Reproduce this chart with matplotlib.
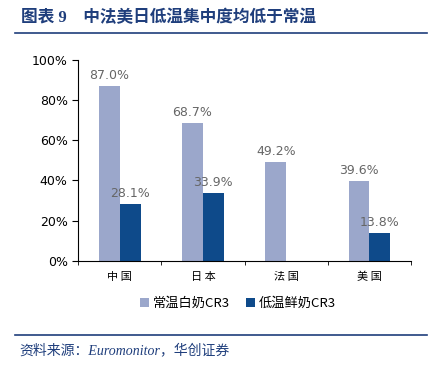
import numpy as np
import matplotlib
matplotlib.use("Agg")
import matplotlib.pyplot as plt
from matplotlib.lines import Line2D

plt.rcParams["font.family"] = ["Noto Sans CJK SC", "DejaVu Sans"]

categories = ["中国", "日本", "法国", "美国"]
ambient_cr3 = [87.0, 68.7, 49.2, 39.6]
chilled_cr3 = [28.1, 33.9, None, 13.8]
series_names = ["常温白奶CR3", "低温鲜奶CR3"]
light_color = "#9BA7CB"
dark_color = "#0E4A8A"
navy = "#1F3E7C"

fig = plt.figure(figsize=(4.34, 3.70), dpi=100)

# title and rules
fig.text(0.048, 0.951, "图表 9    中法美日低温集中度均低于常温", fontsize=12,
         fontweight="bold", color=navy, va="center", ha="left",
         family=["Liberation Serif", "Noto Sans CJK SC"])
fig.add_artist(Line2D([0.035, 0.985], [0.911, 0.911], color=navy, lw=1.2))
fig.add_artist(Line2D([0.035, 0.985], [0.095, 0.095], color=navy, lw=1.2))
fig.text(0.045, 0.052, "资料来源：Euromonitor，华创证券", fontsize=10,
         style="italic", color=navy, va="center", ha="left",
         family=["Liberation Serif", "Noto Sans CJK SC"])

ax = fig.add_axes([0.180, 0.295, 0.767, 0.543])
x = np.arange(len(categories))
w = 0.25
ax.bar(x - w / 2, ambient_cr3, width=w, color=light_color, label=series_names[0])
chilled_vals = [v if v is not None else 0 for v in chilled_cr3]
ax.bar(x + w / 2, chilled_vals, width=w, color=dark_color, label=series_names[1])

for xi, v in zip(x, ambient_cr3):
    ax.text(xi - w / 2, v + 2, f"{v:.1f}%", ha="center", va="bottom",
            fontsize=9, color="#666666", family="DejaVu Sans")
for xi, v in zip(x, chilled_cr3):
    if v is not None:
        ax.text(xi + w / 2, v + 2, f"{v:.1f}%", ha="center", va="bottom",
                fontsize=9, color="#666666", family="DejaVu Sans")

ax.set_xlim(-0.5, len(categories) - 0.5)
ax.set_ylim(0, 100)
ax.set_yticks(np.arange(0, 101, 20))
ax.set_yticklabels([f"{t}%" for t in range(0, 101, 20)], fontsize=9,
                   family="DejaVu Sans")
ax.set_xticks(x)
ax.set_xticklabels([" ".join(c) for c in categories], fontsize=8)
ax.tick_params(axis="x", length=0, pad=8)
ax.set_xticks(np.arange(-0.5, len(categories)), minor=True)
ax.tick_params(axis="x", which="minor", length=3, direction="out")
ax.tick_params(axis="y", length=4, direction="out")
for s in ["top", "right"]:
    ax.spines[s].set_visible(False)
ax.spines["left"].set_linewidth(0.8)
ax.spines["bottom"].set_linewidth(0.8)

ax.legend(loc="upper center", bbox_to_anchor=(0.48, -0.12), ncol=2,
          frameon=False, fontsize=9.5, handlelength=0.7, handleheight=0.7,
          handletextpad=0.3, columnspacing=1.2)

fig.savefig("out.png", dpi=100)
